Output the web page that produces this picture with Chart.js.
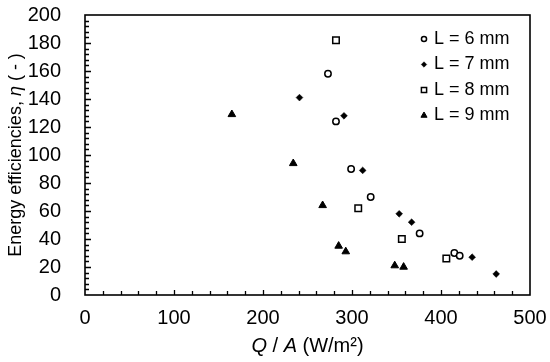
<!DOCTYPE html>
<html>
<head>
<meta charset="utf-8">
<script src="https://cdn.jsdelivr.net/npm/chart.js@4/dist/chart.umd.min.js"></script>
<style>
  html, body { margin: 0; padding: 0; background: #fff; }
  #wrap { width: 550px; height: 362px; }
</style>
</head>
<body>
<div id="wrap"><canvas id="c" width="550" height="362"></canvas></div>
<script>
// values (Q/A in W/m2, eta unitless)
const qL6   = [273, 282, 299, 321, 376, 415, 421];
const etaL6 = [158, 124, 90, 70, 44, 30, 28];

const qL7   = [241, 291, 312, 353, 367, 435, 462];
const etaL7 = [141, 128, 89, 58, 52, 27, 15];

const qL8   = [282, 307, 356, 406];
const etaL8 = [182, 62, 40, 26];

const qL9   = [165, 234, 267, 285, 293, 348, 358];
const etaL9 = [129, 94, 64, 35, 31, 21, 20];

const seriesLabels = ["L = 6 mm", "L = 7 mm", "L = 8 mm", "L = 9 mm"];
const xRange = [0, 500];
const yRange = [0, 200];

const FONT = "'Liberation Sans', Arial, sans-serif";

function toPoints(xs, ys) {
  return xs.map((x, i) => ({ x, y: ys[i] }));
}

// marker look per series
const markers = [
  { pointStyle: "circle",   radius: 3.2, fill: "#fff", borderWidth: 1.5 },
  { pointStyle: "rectRot",  radius: 3.4, fill: "#000", borderWidth: 0.5 },
  { pointStyle: "rect",     radius: 4.6, fill: "#fff", borderWidth: 1.5 },
  { pointStyle: "triangle", radius: 4.4, fill: "#000", borderWidth: 1 },
];

const allData = [
  toPoints(qL6, etaL6),
  toPoints(qL7, etaL7),
  toPoints(qL8, etaL8),
  toPoints(qL9, etaL9),
];

const datasets = allData.map((d, i) => ({
  label: seriesLabels[i],
  data: d,
  pointStyle: markers[i].pointStyle,
  pointRadius: markers[i].radius,
  pointHoverRadius: markers[i].radius,
  backgroundColor: markers[i].fill,
  borderColor: "#000",
  pointBorderWidth: markers[i].borderWidth,
  showLine: false,
}));

// draw a line of mixed normal/italic text centred at (cx, cy)
function drawMixed(ctx, parts, cx, cy, size) {
  const fonts = parts.map(p => (p.italic ? "italic " : "") + size + "px " + FONT);
  let total = 0;
  const widths = parts.map((p, i) => {
    ctx.font = fonts[i];
    const w = ctx.measureText(p.text).width;
    total += w;
    return w;
  });
  let x = cx - total / 2;
  ctx.textBaseline = "middle";
  ctx.textAlign = "left";
  parts.forEach((p, i) => {
    ctx.font = fonts[i];
    ctx.fillText(p.text, x, cy);
    x += widths[i];
  });
}

const decorPlugin = {
  id: "decor",
  afterDraw(chart) {
    const ctx = chart.ctx;
    const area = chart.chartArea;
    const xs = chart.scales.x;
    const ys = chart.scales.y;
    ctx.save();
    ctx.strokeStyle = "#000";
    ctx.fillStyle = "#000";

    // inward tick marks
    ctx.lineWidth = 1.3;
    ctx.beginPath();
    for (let v = xRange[0] + 20; v < xRange[1]; v += 20) {
      const px = Math.round(xs.getPixelForValue(v)) + 0.5;
      const len = v % 100 === 0 ? 5 : 4;
      ctx.moveTo(px, area.bottom);
      ctx.lineTo(px, area.bottom - len);
    }
    for (let v = yRange[0] + 4; v < yRange[1]; v += 4) {
      const py = Math.round(ys.getPixelForValue(v)) + 0.5;
      const len = v % 20 === 0 ? 6 : 4;
      ctx.moveTo(area.left, py);
      ctx.lineTo(area.left + len, py);
    }
    ctx.stroke();

    // frame
    ctx.lineWidth = 1.6;
    ctx.strokeRect(area.left, area.top, area.right - area.left, area.bottom - area.top);

    // axis titles
    drawMixed(ctx, [
      { text: "Q", italic: true },
      { text: " / ", italic: false },
      { text: "A", italic: true },
      { text: " (W/m\u00B2)", italic: false },
    ], (area.left + area.right) / 2, 346, 20);

    ctx.save();
    ctx.translate(16, (area.top + area.bottom) / 2);
    ctx.rotate(-Math.PI / 2);
    drawMixed(ctx, [
      { text: "Energy efficiencies, ", italic: false },
      { text: "\u03B7", italic: true },
      { text: " ( - )", italic: false },
    ], 0, 0, 18);
    ctx.restore();

    // legend, upper right inside the plot
    const lx = 424, tx = 434;
    const rowY = [39, 64.5, 90, 115.5];
    chart.data.datasets.forEach((ds, i) => {
      const m = markers[i];
      ctx.fillStyle = m.fill;
      ctx.strokeStyle = "#000";
      ctx.lineWidth = m.borderWidth;
      Chart.helpers.drawPoint(ctx, {
        pointStyle: m.pointStyle,
        radius: m.radius * 0.8,
        rotation: 0,
        borderWidth: m.borderWidth,
      }, lx, rowY[i]);
      ctx.fillStyle = "#000";
      ctx.font = "18px " + FONT;
      ctx.textAlign = "left";
      ctx.textBaseline = "middle";
      ctx.fillText(ds.label, tx, rowY[i]);
    });
    ctx.restore();
  },
};

new Chart(document.getElementById("c").getContext("2d"), {
  type: "scatter",
  data: { datasets },
  options: {
    responsive: false,
    animation: false,
    events: [],
    layout: { autoPadding: false, padding: { top: 15, right: 20, left: 0, bottom: 0 } },
    plugins: {
      legend: { display: false },
      tooltip: { enabled: false },
      title: { display: false },
    },
    scales: {
      x: {
        type: "linear",
        min: xRange[0],
        max: xRange[1],
        grid: { display: false, drawTicks: false },
        border: { display: false },
        ticks: {
          stepSize: 100,
          padding: 11,
          autoSkip: false,
          color: "#000",
          font: { family: FONT, size: 20 },
          maxRotation: 0,
        },
        afterFit(scale) {
          scale.height = 67;
          scale.paddingLeft = 0;
          scale.paddingRight = 0;
        },
      },
      y: {
        type: "linear",
        min: yRange[0],
        max: yRange[1],
        grid: { display: false, drawTicks: false },
        border: { display: false },
        ticks: {
          stepSize: 20,
          padding: 24,
          autoSkip: false,
          color: "#000",
          font: { family: FONT, size: 20 },
        },
        afterFit(scale) {
          scale.width = 85;
          scale.paddingTop = 0;
          scale.paddingBottom = 0;
        },
      },
    },
  },
  plugins: [decorPlugin],
});
</script>
</body>
</html>
